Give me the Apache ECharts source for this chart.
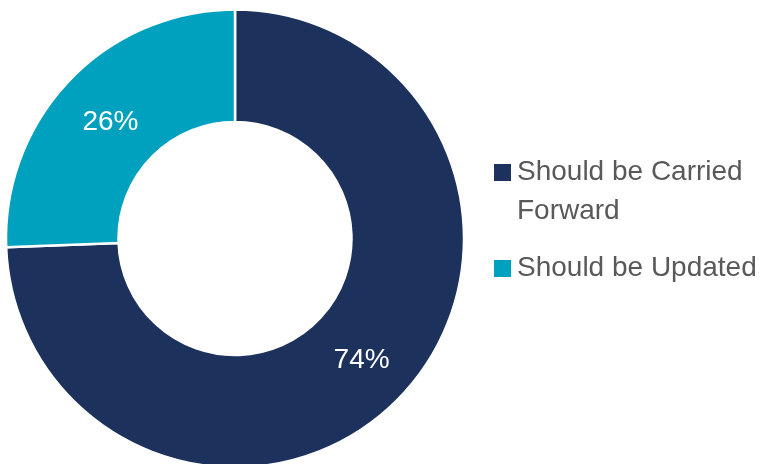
<!DOCTYPE html>
<html>
<head>
<meta charset="utf-8">
<script src="https://cdn.jsdelivr.net/npm/echarts@6/dist/echarts.min.js"></script>
<style>
html,body{margin:0;padding:0;background:#fff;}
#chart{width:762px;height:464px;}
</style>
</head>
<body>
<div id="chart"></div>
<script>
var categories = ['Should be Carried Forward', 'Should be Updated'];
var legendLabels = ['\nShould be Carried\nForward', 'Should be Updated'];
var values = [74.4, 25.6];
var colors = ['#1c315b', '#00a1be'];

var FONT = '"Liberation Sans", Arial, sans-serif';
var chart = echarts.init(document.getElementById('chart'), null, {renderer: 'canvas'});

var labelOffsets = [[0, 0], [2, 6]];
var pieData = categories.map(function (c, i) {
  return { name: c, value: values[i], itemStyle: { color: colors[i] }, label: { offset: labelOffsets[i] } };
});

chart.setOption({
  animation: false,
  backgroundColor: '#ffffff',
  legend: {
    orient: 'vertical',
    left: 492,
    top: 114,
    padding: 0,
    itemGap: 18,
    itemWidth: 19,
    itemHeight: 19,
    icon: 'rect',
    formatter: function (name) {
      return legendLabels[categories.indexOf(name)];
    },
    textStyle: {
      color: '#595959',
      fontSize: 28,
      fontFamily: FONT,
      lineHeight: 39
    },
    data: categories
  },
  series: [{
    type: 'pie',
    center: [235, 238.5],
    radius: [116.5, 229],
    startAngle: 90,
    clockwise: true,
    avoidLabelOverlap: false,
    itemStyle: { borderColor: '#ffffff', borderWidth: 2.5 },
    label: {
      show: true,
      position: 'inside',
      color: '#ffffff',
      fontSize: 28,
      fontFamily: FONT,
      formatter: function (p) { return Math.round(p.value) + '%'; }
    },
    labelLine: { show: false },
    emphasis: { disabled: true },
    data: pieData
  }]
});
</script>
</body>
</html>
